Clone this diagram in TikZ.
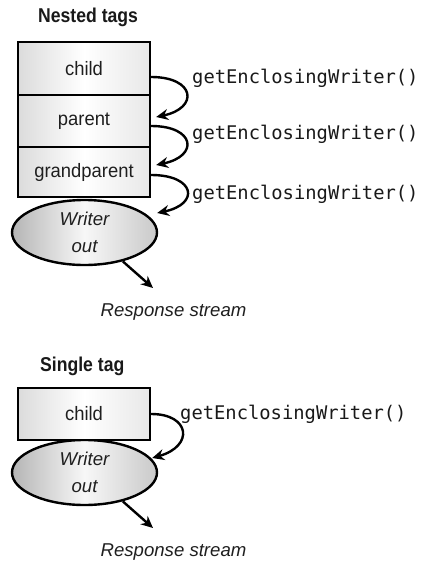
\documentclass[tikz,border=0pt]{standalone}
\usepackage{fontspec}
\setmainfont{Liberation Sans}
\newfontfamily\boxfont{Liberation Sans}[FakeStretch=0.95]
\newfontfamily\headfont{Liberation Sans}[FakeStretch=0.88]
\newfontfamily\emfont{Liberation Sans}[FakeStretch=1.0]
\newfontfamily\codefont{DejaVu Sans Mono}
\usetikzlibrary{arrows.meta,shapes.geometric,calc}
\tikzset{
  tagbox/.style={draw, line width=2.4pt, minimum width=132pt, inner sep=0pt,
    left color=gray!28, right color=gray!18, middle color=white,
    font=\boxfont\fontsize{19.4}{22}\selectfont, text=black!88},
  writer/.style={ellipse, draw, line width=2.4pt, minimum width=145pt, minimum height=65pt,
    inner sep=0pt, align=center, left color=gray!58, right color=gray!42, middle color=gray!6,
    font=\emfont\itshape\fontsize{18.6}{27}\selectfont, text=black!88},
  head/.style={font=\headfont\bfseries\fontsize{20}{24}\selectfont, text=black!90, inner sep=0pt},
  code/.style={font=\codefont\fontsize{18.8}{22}\selectfont, text=black!90, inner sep=0pt},
  resp/.style={font=\emfont\itshape\fontsize{18.6}{22}\selectfont, text=black!88, inner sep=0pt},
  conn/.style={line width=2.4pt, -{Stealth[length=12pt,width=11pt,inset=4pt]}}
}
\begin{document}
\begin{tikzpicture}[x=1pt,y=-1pt]
\useasboundingbox (0,0) rectangle (422,565);
% Nested tags
\node[head, anchor=base west] (t1) at (38,22) {Nested tags};
\node[writer] (w1) at (84.5,232.5) {Writer\\out};
\node[tagbox, minimum height=53pt] (child) at (84,68.5) {child};
\node[tagbox, minimum height=52pt] (parent) at (84,121) {parent};
\node[tagbox, minimum height=50pt] (grand) at (84,172) {grandparent};
\node[code, anchor=base west] (l1) at (192,83) {getEnclosingWriter()};
\node[code, anchor=base west] (l2) at (192,139.5) {getEnclosingWriter()};
\node[code, anchor=base west] (l3) at (192,199.5) {getEnclosingWriter()};
\coordinate (r1tip) at (153,288);
\node[resp] (r1) at (173.5,312) {Response stream};
\draw[conn] ([yshift=-8.5pt]child.east) .. controls +(44,0) and +(43,-9) .. ([xshift=5pt,yshift=4pt]parent.east);
\draw[conn] ([yshift=-5pt]parent.east) .. controls +(44,0) and +(43,-9) .. ([xshift=5pt,yshift=7pt]grand.east);
\draw[conn] ([yshift=-3pt]grand.east) .. controls +(44,0) and +(43,-9) .. ([xshift=-1pt,yshift=19.5pt]w1.east);
\draw[conn] (w1.-37) -- (r1tip);
% Single tag
\node[head, anchor=base west] (t2) at (40,371) {Single tag};
\node[writer] (w2) at (84.5,472.5) {Writer\\out};
\node[tagbox, minimum height=52pt] (child2) at (84,414) {child};
\node[code, anchor=base west] (l4) at (180,419.5) {getEnclosingWriter()};
\coordinate (r2tip) at (153,528);
\node[resp] (r2) at (173.5,552) {Response stream};
\draw[conn] (child2.east) .. controls +(39,0) and +(42,-12) .. ([xshift=-6pt,yshift=14.5pt]w2.east);
\draw[conn] (w2.-37) -- (r2tip);
\end{tikzpicture}
\end{document}
